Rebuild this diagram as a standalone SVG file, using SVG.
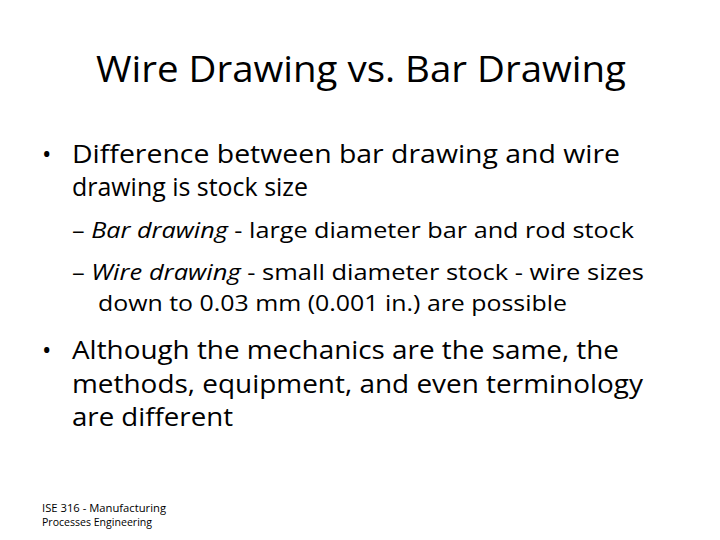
<svg xmlns="http://www.w3.org/2000/svg" width="720" height="540" viewBox="0 0 720 540">
<style>
text{font-family:"Open Sans","Liberation Sans",sans-serif;fill:#000}
.t{font-size:36px}.b{font-size:25px}.s{font-size:21.5px}.f{font-size:10px}
.i{font-style:italic}
</style>
<rect width="720" height="540" fill="#fff"/>
<text class="t" x="96" y="82" textLength="530" lengthAdjust="spacingAndGlyphs">Wire Drawing vs. Bar Drawing</text>
<text class="b" x="42" y="163">•</text>
<text class="b" x="72" y="163" textLength="548" lengthAdjust="spacingAndGlyphs">Difference between bar drawing and wire</text>
<text class="b" x="72" y="196" textLength="236" lengthAdjust="spacingAndGlyphs">drawing is stock size</text>
<text class="s" x="72" y="238" textLength="562" lengthAdjust="spacingAndGlyphs">– <tspan class="i">Bar drawing</tspan> - large diameter bar and rod stock</text>
<text class="s" x="72" y="280" textLength="572" lengthAdjust="spacingAndGlyphs">– <tspan class="i">Wire drawing</tspan> - small diameter stock - wire sizes</text>
<text class="s" x="98" y="311" textLength="469" lengthAdjust="spacingAndGlyphs">down to 0.03 mm (0.001 in.) are possible</text>
<text class="b" x="42" y="359">•</text>
<text class="b" x="72" y="359" textLength="547" lengthAdjust="spacingAndGlyphs">Although the mechanics are the same, the</text>
<text class="b" x="72" y="393" textLength="571" lengthAdjust="spacingAndGlyphs">methods, equipment, and even terminology</text>
<text class="b" x="72" y="426" textLength="161" lengthAdjust="spacingAndGlyphs">are different</text>
<text class="f" x="42" y="512" fill="#333" textLength="124" lengthAdjust="spacingAndGlyphs">ISE 316  -  Manufacturing</text>
<text class="f" x="42" y="526" fill="#333" textLength="110" lengthAdjust="spacingAndGlyphs">Processes Engineering</text>
</svg>
